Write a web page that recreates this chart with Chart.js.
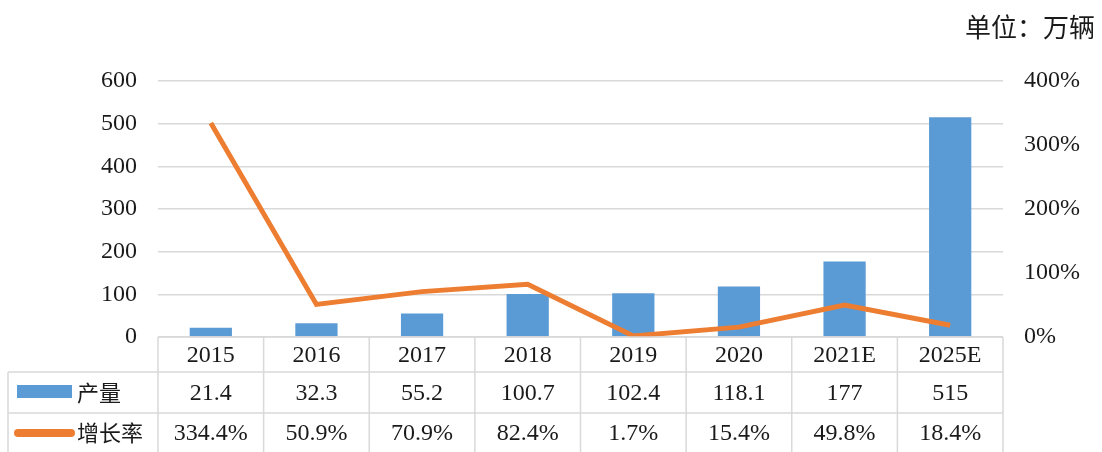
<!DOCTYPE html>
<html>
<head>
<meta charset="utf-8">
<script src="https://cdn.jsdelivr.net/npm/chart.js@4"></script>
<style>
  html, body { margin: 0; padding: 0; background: #fff; }
  #wrap { width: 1102px; height: 452px; position: relative; }
</style>
</head>
<body>
<div id="wrap"><canvas id="chart"></canvas></div>
<script>
const YEARS = ["2015", "2016", "2017", "2018", "2019", "2020", "2021E", "2025E"];
const OUTPUT = [21.4, 32.3, 55.2, 100.7, 102.4, 118.1, 177, 515];
const GROWTH = [334.4, 50.9, 70.9, 82.4, 1.7, 15.4, 49.8, 18.4];
const OUTPUT_NAME = "产量";
const GROWTH_NAME = "增长率";
const UNIT = "单位：万辆";

const BLUE = "#5b9bd5";
const ORANGE = "#ed7d31";
const LINE = "#d9d9d9";
const SERIF = "'Liberation Serif', 'Times New Roman', serif";
const CJK = "'Noto Sans CJK SC', sans-serif";

// data table under the plot, plus the unit note at top right
const tablePlugin = {
  id: 'table',
  afterDraw(chart) {
    const ctx = chart.ctx;
    const x = chart.scales.x;
    const area = chart.chartArea;
    const colW = (area.right - area.left) / YEARS.length;
    const r0 = area.bottom, r1 = r0 + 35, r2 = r1 + 41, r3 = 452;
    const tableLeft = 8;

    ctx.save();
    ctx.strokeStyle = LINE;
    ctx.lineWidth = 1.5;
    ctx.beginPath();
    ctx.moveTo(area.left, r0); ctx.lineTo(area.right, r0);
    ctx.moveTo(tableLeft, r1); ctx.lineTo(area.right, r1);
    ctx.moveTo(tableLeft, r2); ctx.lineTo(area.right, r2);
    ctx.moveTo(tableLeft, r1); ctx.lineTo(tableLeft, r3);
    for (let i = 0; i <= YEARS.length; i++) {
      const cx = area.left + i * colW;
      ctx.moveTo(cx, r0); ctx.lineTo(cx, r3);
    }
    ctx.stroke();

    ctx.fillStyle = '#1a1a1a';
    ctx.textAlign = 'center';
    ctx.textBaseline = 'middle';
    ctx.font = '24px ' + SERIF;
    YEARS.forEach((y, i) => {
      const cx = x.getPixelForValue(i);
      ctx.fillText(y, cx, (r0 + r1) / 2 + 1);
      ctx.fillText(String(OUTPUT[i]), cx, (r1 + r2) / 2 + 1);
      ctx.fillText(GROWTH[i].toFixed(1) + '%', cx, (r2 + r3) / 2 + 1);
    });

    // legend keys
    ctx.fillStyle = BLUE;
    ctx.fillRect(17, 385, 55, 13);
    ctx.strokeStyle = ORANGE;
    ctx.lineWidth = 8;
    ctx.lineCap = 'round';
    ctx.beginPath();
    ctx.moveTo(18, 433); ctx.lineTo(71, 433);
    ctx.stroke();

    ctx.fillStyle = '#1a1a1a';
    ctx.textAlign = 'left';
    ctx.font = '22px ' + CJK;
    ctx.fillText(OUTPUT_NAME, 77, (r1 + r2) / 2);
    ctx.fillText(GROWTH_NAME, 77, (r2 + r3) / 2);

    ctx.textAlign = 'right';
    ctx.font = '26px ' + CJK;
    ctx.fillText(UNIT, 1095, 27);
    ctx.restore();
  }
};

new Chart(document.getElementById('chart'), {
  data: {
    labels: YEARS,
    datasets: [{
      type: 'line',
      label: GROWTH_NAME,
      data: GROWTH,
      yAxisID: 'y1',
      borderColor: ORANGE,
      borderWidth: 5,
      pointRadius: 0,
      tension: 0,
      order: 0
    }, {
      type: 'bar',
      label: OUTPUT_NAME,
      data: OUTPUT,
      yAxisID: 'y',
      backgroundColor: BLUE,
      barPercentage: 0.4,
      categoryPercentage: 1,
      order: 1
    }]
  },
  options: {
    responsive: true,
    maintainAspectRatio: false,
    animation: false,
    layout: {
      padding: { top: 81, bottom: 115 }
    },
    plugins: {
      legend: { display: false },
      tooltip: { enabled: false }
    },
    scales: {
      x: {
        display: false,
        offset: true
      },
      y: {
        position: 'left',
        min: 0,
        max: 600,
        afterFit(scale) { scale.width = 158; },
        ticks: {
          stepSize: 100,
          padding: 21,
          color: '#1a1a1a',
          font: { family: SERIF, size: 24 }
        },
        grid: { color: LINE, lineWidth: 1.5, drawTicks: false },
        border: { display: false }
      },
      y1: {
        position: 'right',
        min: 0,
        max: 400,
        afterFit(scale) { scale.width = 99; },
        ticks: {
          stepSize: 100,
          padding: 21,
          color: '#1a1a1a',
          font: { family: SERIF, size: 24 },
          callback: v => v + '%'
        },
        grid: { display: false, drawTicks: false },
        border: { display: false }
      }
    }
  },
  plugins: [tablePlugin]
});
</script>
</body>
</html>
